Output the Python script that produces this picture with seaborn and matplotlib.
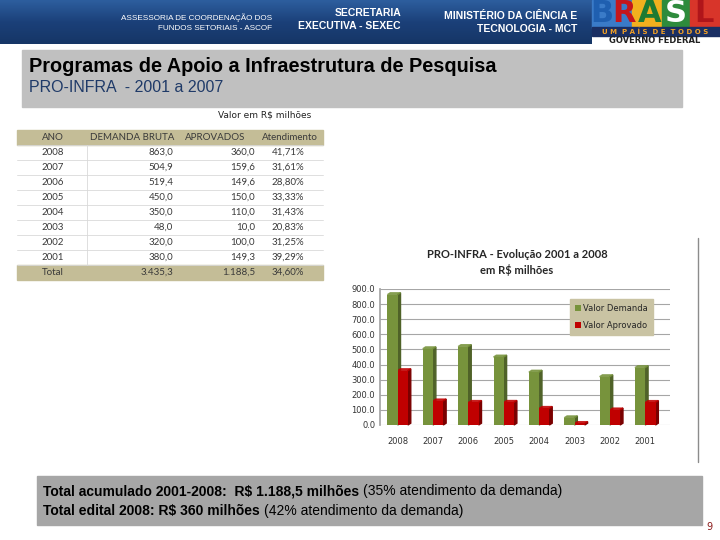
import numpy as np
import pandas as pd
import matplotlib
matplotlib.use('Agg')
import matplotlib.pyplot as plt
import seaborn as sns
from matplotlib.patches import Rectangle, Polygon
from matplotlib.ticker import FuncFormatter, MultipleLocator

# dados (R$ milhoes)
anos = ['2008', '2007', '2006', '2005', '2004', '2003', '2002', '2001']
demanda = [863.0, 504.9, 519.4, 450.0, 350.0, 48.0, 320.0, 380.0]
aprovados = [360.0, 159.6, 149.6, 150.0, 110.0, 10.0, 100.0, 149.3]
series = ['Valor Demanda', 'Valor Aprovado']
cores = ['#77933c', '#c00000']
cores_lado = ['#4f6228', '#7a0000']

col_titulos = ['ANO', 'DEMANDA BRUTA', 'APROVADOS', 'Atendimento']

sns.set_theme(style='white')
plt.rcParams['font.family'] = ['DejaVu Sans']

fig = plt.figure(figsize=(7.2, 5.4), dpi=100)
bg = fig.add_axes([0, 0, 1, 1])
bg.set_xlim(0, 720)
bg.set_ylim(540, 0)
bg.axis('off')

NARROW = ['Liberation Sans Narrow', 'Liberation Sans', 'DejaVu Sans']


def br(v, dec=1):
    s = f'{v:,.{dec}f}'
    return s.replace(',', 'X').replace('.', ',').replace('X', '.')


# faixa azul do topo
grad = np.linspace(0, 1, 50).reshape(-1, 1)
cmap_top = matplotlib.colors.LinearSegmentedColormap.from_list('h', ['#2d5e9e', '#1b4079', '#163666'])
bg.imshow(grad, extent=[0, 592, 44, 0], cmap=cmap_top, aspect='auto', zorder=0)

txt = dict(color='white', fontfamily=NARROW)
bg.text(272, 18, 'ASSESSORIA DE COORDENAÇÃO DOS', ha='right', va='center', fontsize=5.9, **txt)
bg.text(272, 28, 'FUNDOS SETORIAIS - ASCOF', ha='right', va='center', fontsize=5.9, **txt)
bg.text(401, 13, 'SECRETARIA', ha='right', va='center', fontsize=7.5, fontweight='bold', **txt)
bg.text(401, 26, 'EXECUTIVA - SEXEC', ha='right', va='center', fontsize=7.5, fontweight='bold', **txt)
bg.text(577, 16, 'MINISTÉRIO DA CIÊNCIA E', ha='right', va='center', fontsize=7.5, fontweight='bold', **txt)
bg.text(577, 29, 'TECNOLOGIA - MCT', ha='right', va='center', fontsize=7.5, fontweight='bold', **txt)

# logo simplificado
bg.add_patch(Rectangle((592, 0), 128, 28, color='#2a4f8f', zorder=1))
bg.add_patch(Rectangle((592, 0), 40, 28, color='#3a7bc8', zorder=1))
bg.add_patch(Rectangle((632, 0), 30, 28, color='#f2b01e', zorder=1))
bg.add_patch(Rectangle((662, 0), 28, 28, color='#2e8b3c', zorder=1))
bg.add_patch(Rectangle((690, 0), 30, 28, color='#d8352a', zorder=1))
for ch, x, c in zip('BRASL', [602, 624, 650, 676, 704], ['#1f5fb0', '#c4161c', '#1e7a32', '#ffffff', '#b0151a']):
    bg.text(x, 14, ch, ha='center', va='center', fontsize=22, fontweight='bold', color=c,
            fontfamily=['DejaVu Sans'], zorder=2)
bg.add_patch(Rectangle((592, 27), 128, 9, color='#1a2f63', zorder=2))
bg.text(655, 31.5, 'U M  P A Í S  D E  T O D O S', ha='center', va='center', fontsize=5,
        fontweight='bold', color='#f2a024', zorder=3)
bg.text(655, 40.5, 'GOVERNO FEDERAL', ha='center', va='center', fontsize=6, fontweight='bold',
        color='#222222', zorder=3)

# caixa do titulo
bg.add_patch(Rectangle((22, 50), 660, 57, color='#c0c0c0', zorder=1))
bg.text(29, 66, 'Programas de Apoio a Infraestrutura de Pesquisa', ha='left', va='center',
        fontsize=14.3, fontweight='bold', color='black', fontfamily=NARROW, zorder=2)
bg.text(29, 88, 'PRO-INFRA  - 2001 a 2007', ha='left', va='center', fontsize=11.5,
        color='#1f3a68', fontfamily=NARROW, zorder=2)

bg.text(265, 115, 'Valor em R$ milhões', ha='center', va='center', fontsize=6.5, color='#222222')

# tabela
tx0, tx1 = 17, 323
ty0, rh = 130, 15
bege = '#c4bd97'
tcor = '#3a3a3a'
tfont = ['Lato', 'DejaVu Sans']
n = len(anos)
bg.add_patch(Rectangle((tx0, ty0), tx1 - tx0, rh, color=bege, zorder=1))
bg.add_patch(Rectangle((tx0, ty0 + rh * (n + 1)), tx1 - tx0, rh, color=bege, zorder=1))
for i in range(n + 1):
    yl = ty0 + rh * (i + 1)
    bg.plot([tx0, tx1], [yl, yl], color='#d9d9d9', lw=0.6, zorder=1)
bg.plot([87, 87], [ty0 + rh, ty0 + rh * (n + 1)], color='#d9d9d9', lw=0.6, zorder=1)

hx = [53, 132, 215, 290]
for t, x in zip(col_titulos, hx):
    bg.text(x, ty0 + rh / 2, t, ha='center', va='center', fontsize=7, color=tcor, fontfamily=tfont, zorder=2)

for i, (a, d, p) in enumerate(zip(anos, demanda, aprovados)):
    yc = ty0 + rh * (i + 1.5)
    bg.text(42, yc, a, ha='left', va='center', fontsize=7, color=tcor, fontfamily=tfont, zorder=2)
    bg.text(173, yc, br(d), ha='right', va='center', fontsize=7, color=tcor, fontfamily=tfont, zorder=2)
    bg.text(255, yc, br(p), ha='right', va='center', fontsize=7, color=tcor, fontfamily=tfont, zorder=2)
    bg.text(288, yc, br(100 * p / d, 2) + '%', ha='center', va='center', fontsize=7, color=tcor,
            fontfamily=tfont, zorder=2)

yc = ty0 + rh * (n + 1.5)
tot_d, tot_p = sum(demanda), sum(aprovados)
bg.text(42, yc, 'Total', ha='left', va='center', fontsize=7, color=tcor, fontfamily=tfont, zorder=2)
bg.text(173, yc, br(tot_d), ha='right', va='center', fontsize=7, color=tcor, fontfamily=tfont, zorder=2)
bg.text(255, yc, br(tot_p), ha='right', va='center', fontsize=7, color=tcor, fontfamily=tfont, zorder=2)
bg.text(288, yc, br(100 * tot_p / tot_d, 2) + '%', ha='center', va='center', fontsize=7, color=tcor,
        fontfamily=tfont, zorder=2)

# grafico
bg.plot([698, 698], [238, 462], color='#8c8c8c', lw=1.0)
bg.text(517, 254, 'PRO-INFRA - Evolução 2001 a 2008', ha='center', va='center', fontsize=8,
        fontweight='bold', color='#262626', fontfamily=tfont)
bg.text(517, 270, 'em R$ milhões', ha='center', va='center', fontsize=8,
        fontweight='bold', color='#262626', fontfamily=tfont)

df = pd.DataFrame({
    'ano': anos * 2,
    'serie': [series[0]] * n + [series[1]] * n,
    'valor': demanda + aprovados,
})

ax = fig.add_axes([380 / 720, 1 - 425 / 540, 290 / 720, 136 / 540])
ax.patch.set_alpha(0)
sns.barplot(data=df, x='ano', y='valor', hue='serie', order=anos, hue_order=series,
            palette=cores, saturation=1, width=0.58, gap=0, ax=ax, linewidth=0, zorder=2)
ax.set_xlim(-0.5, n - 0.3)
ax.set_ylim(0, 900)
ax.yaxis.set_major_locator(MultipleLocator(100))
ax.yaxis.set_major_formatter(FuncFormatter(lambda v, p: f'{v:.1f}'))
ax.grid(axis='y', color='#a6a6a6', lw=0.8, zorder=0.5)
ax.set_axisbelow(True)
for s in ['top', 'right', 'bottom']:
    ax.spines[s].set_visible(False)
ax.spines['left'].set_color('#a6a6a6')
ax.set_xlabel('')
ax.set_ylabel('')
ax.tick_params(axis='both', length=0, labelsize=6, colors='#333333')
ax.tick_params(axis='x', pad=9)

# efeito 3D simples a partir das barras
dx, dy = 0.08, 12
bars = [b for b in ax.patches if b.get_height() > 0]
for b in bars:
    x, w, h = b.get_x(), b.get_width(), b.get_height()
    fc = b.get_facecolor()
    idx = 0 if np.allclose(fc[:3], matplotlib.colors.to_rgb(cores[0])) else 1
    side = Polygon([(x + w, 0), (x + w + dx, dy), (x + w + dx, h + dy), (x + w, h)],
                   closed=True, color=cores_lado[idx], zorder=1.9, clip_on=False)
    top = Polygon([(x, h), (x + dx, h + dy), (x + w + dx, h + dy), (x + w, h)],
                  closed=True, color=cores[idx], alpha=0.8, zorder=1.9, clip_on=False)
    ax.add_patch(side)
    ax.add_patch(top)

leg = ax.legend(loc='upper left', bbox_to_anchor=(0.64, 0.96), fontsize=6, frameon=True,
                fancybox=False, handlelength=0.7, handleheight=0.7, handletextpad=0.3,
                borderpad=0.6, labelspacing=1.0)
leg.get_frame().set_facecolor('#c9c3a3')
leg.get_frame().set_edgecolor('#c9c3a3')
leg.get_frame().set_alpha(1)

# caixa inferior
bg.add_patch(Rectangle((37, 476), 665, 49, color='#a6a6a6', zorder=1))
fig.canvas.draw()
renderer = fig.canvas.get_renderer()


def linha(y, partes):
    x = 43
    for s, peso in partes:
        t = bg.text(x, y, s, ha='left', va='center', fontsize=10, fontweight=peso,
                    color='black', fontfamily=NARROW, zorder=2)
        bb = t.get_window_extent(renderer=renderer)
        x += bb.width * 720 / fig.bbox.width


linha(491, [('Total acumulado 2001-2008:  R$ 1.188,5 milhões ', 'bold'),
            ('(35% atendimento da demanda)', 'normal')])
linha(511, [('Total edital 2008: R$ 360 milhões ', 'bold'),
            ('(42% atendimento da demanda)', 'normal')])

bg.text(709, 527, '9', ha='center', va='center', fontsize=7, color='#8b1a1a')

fig.savefig('out.png', dpi=100)
